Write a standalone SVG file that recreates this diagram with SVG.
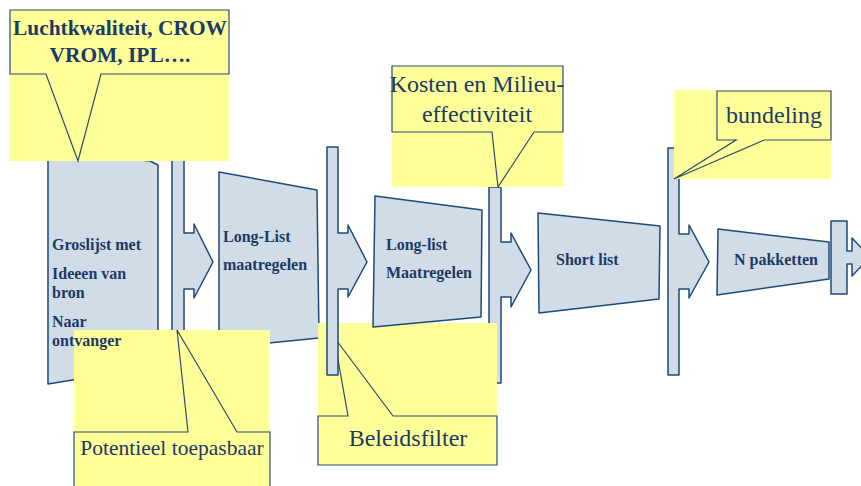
<svg xmlns="http://www.w3.org/2000/svg" width="861" height="486" viewBox="0 0 861 486">
<style>
.shape{fill:#D1DCE6;stroke:#1D4A78;stroke-width:1.5;stroke-linejoin:round}
.bar{fill:#D1DCE6;stroke:#1D4A78;stroke-width:1.5;stroke-linejoin:round}
.yel{fill:#FFFF99}
.call{fill:#FFFF99;stroke:#2A4C70;stroke-width:1.2;stroke-linejoin:miter}
.bt{font-family:"Liberation Serif",serif;font-weight:bold;font-size:16px;fill:#1B3A66}
.ct{font-family:"Liberation Serif",serif;font-size:24px;fill:#1B3A66;text-anchor:middle}
.cb{font-family:"Liberation Serif",serif;font-weight:bold;font-size:21.4px;fill:#1B3A66;text-anchor:middle}
</style>
<rect width="861" height="486" fill="#FFFFFF"/>
<g id="groslijst">
<polygon class="shape" points="48,150 150,161 158,165 158,366 48,384"/>
</g>
<g id="connectors">
<path id="filter1" class="bar" d="M172,155 H184 V233 H194 V224 L213,262 L194,298 V289 H184 V375 H172 Z"/>
</g>
<g id="callout-luchtkwaliteit">
<rect class="yel" x="9" y="9" width="220" height="152"/>
<path class="call" d="M10,10 H229 V74 H101 L78,161 L46,74 H10 Z"/>
<text class="cb" x="120" y="35">Luchtkwaliteit, CROW</text>
<text class="cb" x="120" y="62">VROM, IPL….</text>
</g>
<g id="longlist1">
<polygon class="shape" points="219,172 317,190 319,338 219,348"/>
</g>
<g id="callout-potentieel">
<rect class="yel" x="74" y="330" width="196" height="160"/>
<path class="call" d="M74,432 H188 L177,330 L237,432 H270 V492 H74 Z"/>
<text class="ct" style="font-size:21.5px" x="172" y="455">Potentieel toepasbaar</text>
</g>
<g id="groslijst-text">
<text class="bt" x="52" y="250">Groslijst met</text>
<text class="bt" x="52" y="279">Ideeen van</text>
<text class="bt" x="52" y="298">bron</text>
<text class="bt" x="52" y="327">Naar</text>
<text class="bt" x="52" y="346">ontvanger</text>
</g>
<g id="longlist1-text">
<text class="bt" x="223" y="242">Long-List</text>
<text class="bt" x="223" y="270">maatregelen</text>
</g>
<g id="connectors-2">
<path id="filter3" class="bar" d="M489,187 H501 V242 H511 V233 L531,270 L511,307 V297 H501 V383 H489 Z"/>
</g>
<g id="callout-beleidsfilter">
<rect class="yel" x="318" y="323" width="179" height="93"/>
<path class="call" d="M318,416 H348 L334,337 L393,416 H497 V465 H318 Z"/>
<text class="ct" x="408" y="446">Beleidsfilter</text>
</g>
<g id="longlist2">
<polygon class="shape" points="375,196 482,210 481,317 373,327"/>
<text class="bt" x="386" y="250">Long-list</text>
<text class="bt" x="386" y="278">Maatregelen</text>
</g>
<g id="connectors-3">
<path id="filter2" class="bar" d="M327,147 H338 V233 H348 V225 L367,262 L348,297 V289 H338 V375 H327 Z"/>
</g>
<g id="callout-kosten">
<rect class="yel" x="392" y="66" width="171" height="121"/>
<path class="call" d="M392,66 H563 V132 H534 L498,187 L492,132 H392 Z"/>
<text class="ct" x="477" y="92">Kosten en Milieu-</text>
<text class="ct" x="477" y="122">effectiviteit</text>
</g>
<g id="shortlist">
<polygon class="shape" points="538,213 660,226 659,299 539,313"/>
<text class="bt" x="556" y="265">Short list</text>
</g>
<g id="connectors-4">
<path id="filter4" class="bar" d="M668,148 H679 V234 H689 V225 L709,262 L689,298 V289 H679 V375 H668 Z"/>
</g>
<g id="callout-bundeling">
<rect class="yel" x="674" y="90" width="157" height="89"/>
<path class="call" d="M717,91 H831 V140 H764 L674,179 L736,140 H717 Z"/>
<text class="ct" x="774" y="123">bundeling</text>
</g>
<g id="pakketten">
<polygon class="shape" points="718,229 829,242 829,279 717,295"/>
<text class="bt" x="734" y="265">N pakketten</text>
</g>
<g id="connectors-5">
<path id="filter5" class="bar" d="M831,221 H847 V251 H852 V238 L870,257 L852,276 V264 H847 V294 H831 Z"/>
</g>
</svg>
